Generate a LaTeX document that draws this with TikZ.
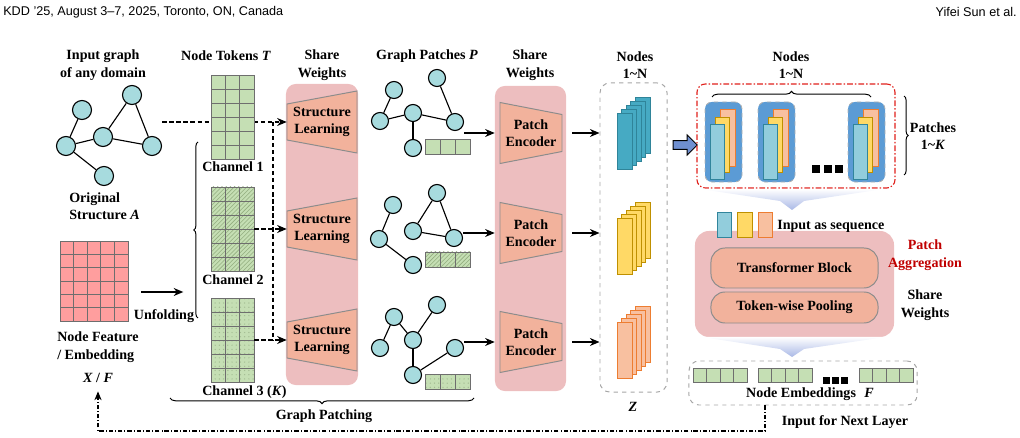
\documentclass[tikz,border=0pt]{standalone}
\usepackage{fontspec}
\setmainfont{Liberation Serif}
\newfontfamily\hdrfont{Liberation Sans}
\usetikzlibrary{arrows.meta, positioning, shapes.arrows, patterns, decorations.pathreplacing, fit, calc}
\definecolor{NodeCyan}{HTML}{A7DBDE}
\definecolor{CellGreen}{HTML}{C5DFB4}
\definecolor{CellLine}{HTML}{6E6E6E}
\definecolor{HatchGreen}{HTML}{93AE80}
\definecolor{DotGreen}{HTML}{A3BC92}
\definecolor{CellPink}{HTML}{FF9E9E}
\definecolor{PanelPink}{HTML}{EDBEBF}
\definecolor{Salmon}{HTML}{F2B29C}
\definecolor{TrapLine}{HTML}{8C8C8C}
\definecolor{StackTeal}{HTML}{46AAC3}
\definecolor{StackTealD}{HTML}{2F8499}
\definecolor{BarTeal}{HTML}{92CDDC}
\definecolor{BarTealD}{HTML}{31859C}
\definecolor{BarYel}{HTML}{FFD966}
\definecolor{BarYelD}{HTML}{BF9000}
\definecolor{BarOrg}{HTML}{F8C0A0}
\definecolor{BarOrgD}{HTML}{ED7D31}
\definecolor{BoxBlue}{HTML}{5B9BD5}
\definecolor{ArrowBlue}{HTML}{6F8FD0}
\definecolor{GradBlue}{HTML}{A9B8E6}
\definecolor{AggRed}{HTML}{E0201B}
\definecolor{TextRed}{HTML}{C00000}
\tikzset{
  lbl/.style={font=\fontsize{10}{12.5}\selectfont\bfseries, align=center, inner sep=0pt},
  hdr/.style={font=\hdrfont\fontsize{9}{10}\selectfont, inner sep=0pt},
  gnode/.style={circle, draw, line width=0.8pt, fill=NodeCyan, minimum size=#1, inner sep=0pt},
  gnode/.default=0.475cm,
  gedge/.style={line width=0.8pt},
  gridcell/.style={draw=CellLine, line width=0.6pt},
  plainfill/.style={fill=CellGreen},
  hatchfill/.style={fill=CellGreen, postaction={pattern=north east lines, pattern color=HatchGreen}},
  dotfill/.style={fill=CellGreen, postaction={pattern=dots, pattern color=DotGreen}},
  trap/.style={draw=TrapLine, fill=Salmon, line width=0.7pt},
  panel/.style={fill=PanelPink, rounded corners=7pt, inner sep=0pt},
  gbox/.style={draw=gray!70, dashed, rounded corners=7pt, line width=0.7pt, inner sep=0pt},
  redbox/.style={draw=AggRed, dash pattern=on 4pt off 1.5pt on 1pt off 1.5pt, rounded corners=6pt, line width=0.8pt, inner sep=0pt},
  bluebox/.style={draw=gray!60, dashed, fill=BoxBlue, rounded corners=5pt, line width=0.6pt, inner sep=0pt, minimum width=0.925cm, minimum height=2cm},
  modbox/.style={draw=TrapLine, fill=Salmon, rounded corners=10pt, line width=0.7pt, inner sep=0pt, minimum width=4.175cm},
  brc/.style={decorate, decoration={brace, amplitude=#1}, line width=0.7pt},
  brc/.default=4pt,
}

\begin{document}
\begin{tikzpicture}[x=0.025cm, y=-0.025cm,
    arr/.style={-{Stealth[length=2.4mm, width=2mm]}, line width=0.8pt},
    darr/.style={arr, dash pattern=on 3pt off 2pt},
    dline/.style={line width=0.8pt, dash pattern=on 3pt off 2pt},
    fb/.style={-{Stealth[length=2.2mm, width=1.8mm]}, line width=0.8pt, dash pattern=on 3pt off 1.5pt on 0.6pt off 1.5pt}
  ]
  \useasboundingbox (0,0) rectangle (1020,438);

  % page header
  \node[hdr, anchor=west] (hdrl) at (3,12) {KDD ’25, August 3–7, 2025, Toronto, ON, Canada};
  \node[hdr, anchor=east] (hdrr) at (1017,12) {Yifei Sun et al.};

  % input graph
  \node[lbl] (inlbl) at (103,65) {Input graph\\of any domain};
  \node[gnode] (n1) at (82,110) {};
  \node[gnode] (n2) at (132,95) {};
  \node[gnode] (n3) at (103,137) {};
  \node[gnode] (n4) at (66,146) {};
  \node[gnode] (n5) at (152,146) {};
  \node[gnode] (n6) at (104,176) {};
  \foreach \a/\b in {n1/n4, n4/n3, n3/n2, n2/n5, n3/n5, n4/n6}
    \draw[gedge] (\a) -- (\b);
  \node[fit=(n1)(n2)(n4)(n5)(n6), inner sep=0pt] (graphA) {};
  \node[lbl, align=left, anchor=west] (origlbl) at (69,206) {Original\\Structure \textit{A}};

  % node features
  \foreach \i in {0,...,4}
    \foreach \j in {0,...,5}
      \draw[gridcell, fill=CellPink] (60+13.6*\i, 241+13.33*\j) rectangle ++(13.6,13.33);
  \node[fit={(60,241)(128,321)}, inner sep=0pt] (feat) {};
  \draw[arr] ([shift={(13,11)}]feat.east) -- ++(42,0);
  \node[lbl] (unfold) at (164,316) {Unfolding};
  \node[lbl, align=left, anchor=west] (featlbl) at (57,347) {Node Feature\\/ Embedding};
  \node[lbl] (xf) at (98,378) {\textit{X} / \textit{F}};
  \draw[brc=3pt] (198,318) -- (198,142);

  % shared structure learning
  \node[lbl] (sw1lbl) at (322,65) {Share\\Weights};
  \node[panel, minimum width=1.8cm, minimum height=7.525cm] (sw1) at (322,234.5) {};
  \foreach \y [count=\i] in {122,229,340} {
    \draw[trap] (287,\y-18) -- (357,\y-31) -- (357,\y+31) -- (287,\y+18) -- cycle;
    \node[lbl, minimum width=1.75cm] (sl\i) at (322,\y) {Structure\\Learning};
  }

  % node tokens
  \node[lbl] (toklbl) at (226,56) {Node Tokens \textit{T}};
  \draw[darr] (graphA.east |- sl1.west) -- (sl1.west);
  \coordinate (vt) at (273,122);
  \coordinate (vb) at (273,340);
  \draw[dline] (vt) -- (vb);
  \foreach \t/\s [count=\k] in {75/plainfill, 187/hatchfill, 298/dotfill} {
    \path[\s] (211,\t) rectangle ++(43,84);
    \foreach \i in {0,1,2}
      \foreach \j in {0,...,5}
        \draw[gridcell] (211+14.33*\i, \t+14*\j) rectangle ++(14.33,14);
    \node[fit={(211,\t)(254,\t+84)}, inner sep=0pt] (ch\k) {};
  }
  \draw[darr] (ch2.east) -- (sl2.west);
  \draw[darr] (ch3.east) -- (sl3.west);
  \node[lbl, anchor=west] (ch1lbl) at (202,167) {Channel 1};
  \node[lbl, anchor=west] (ch2lbl) at (202,280) {Channel 2};
  \node[lbl, anchor=west] (ch3lbl) at (202,392) {Channel 3 (\textit{K})};

  % graph patches
  \node[lbl] (patlbl) at (427,56) {Graph Patches \textit{P}};
  \node[gnode=0.425cm] (p1a) at (394,90) {};
  \node[gnode=0.425cm] (p1b) at (437,78) {};
  \node[gnode=0.425cm] (p1c) at (380,121) {};
  \node[gnode=0.425cm] (p1d) at (413,113) {};
  \node[gnode=0.425cm] (p1e) at (455,122) {};
  \node[gnode=0.425cm] (p1f) at (413,148) {};
  \foreach \a/\b in {p1a/p1c, p1c/p1d, p1d/p1e, p1e/p1b, p1d/p1f}
    \draw[gedge] (\a) -- (\b);

  \node[gnode=0.425cm] (p2a) at (393,205) {};
  \node[gnode=0.425cm] (p2b) at (437,193) {};
  \node[gnode=0.425cm] (p2c) at (379,239) {};
  \node[gnode=0.425cm] (p2d) at (413,231) {};
  \node[gnode=0.425cm] (p2e) at (454,238) {};
  \node[gnode=0.425cm] (p2f) at (413,265) {};
  \foreach \a/\b in {p2a/p2c, p2c/p2f, p2d/p2b, p2b/p2e, p2d/p2e}
    \draw[gedge] (\a) -- (\b);

  \node[gnode=0.425cm] (p3a) at (394,317) {};
  \node[gnode=0.425cm] (p3b) at (437,305) {};
  \node[gnode=0.425cm] (p3c) at (380,348) {};
  \node[gnode=0.425cm] (p3d) at (413,340) {};
  \node[gnode=0.425cm] (p3e) at (455,348) {};
  \node[gnode=0.425cm] (p3f) at (413,375) {};
  \foreach \a/\b in {p3c/p3a, p3a/p3d, p3d/p3b, p3d/p3f, p3f/p3e}
    \draw[gedge] (\a) -- (\b);

  \foreach \y/\s in {139/plainfill, 252/hatchfill, 374/dotfill} {
    \path[\s] (425,\y) rectangle ++(45,15);
    \foreach \i in {0,1,2}
      \draw[gridcell] (425+15*\i,\y) rectangle ++(15,15);
  }

  % shared patch encoder
  \node[lbl] (sw2lbl) at (530,65) {Share\\Weights};
  \node[panel, minimum width=1.775cm, minimum height=7.625cm] (sw2) at (530.5,238.5) {};
  \foreach \y [count=\i] in {133,233,342} {
    \draw[trap] (500,\y-30.5) -- (562,\y-18.5) -- (562,\y+18.5) -- (500,\y+30.5) -- cycle;
    \node[lbl, minimum width=1.55cm] (pe\i) at (531,\y) {Patch\\Encoder};
  }
  \draw[arr] (p1e.east |- pe1.west) -- (sw2.west |- pe1.west);
  \draw[arr] (p2e.east |- pe2.west) -- (sw2.west |- pe2.west);
  \draw[arr] (p3e.east |- pe3.west) -- (sw2.west |- pe3.west);

  % patch embeddings Z
  \node[lbl] (zlbl) at (635,65) {Nodes\\1\textasciitilde N};
  \node[gbox, minimum width=1.675cm, minimum height=7.725cm] (zbox) at (633.5,237.5) {};
  \foreach \i in {1,2,3}
    \draw[arr, shorten <=7pt] (pe\i.east) -- (pe\i.east -| zbox.west);
  \foreach \y/\f/\d in {113/StackTeal/StackTealD, 218/BarYel/BarYelD, 322/BarOrg/BarOrgD}
    \foreach \k in {4,3,2,1,0}
      \draw[draw=\d, fill=\f, line width=0.6pt] (617+4.5*\k, \y-4*\k) rectangle ++(15,56);
  \node[lbl] (zsym) at (633,407) {\textit{Z}};

  \node[single arrow, draw=black, fill=ArrowBlue, line width=0.7pt, minimum height=0.6cm,
        single arrow head extend=4pt, inner sep=2.8pt] (blk) at (683,145) {};

  % regrouped patches
  \node[lbl] (nlbl) at (791,65) {Nodes\\1\textasciitilde N};
  \node[redbox, minimum width=4.95cm, minimum height=2.6cm] (agg) at (796,136) {};
  \draw[brc] (712,97) -- (871,97);
  \foreach \x [count=\i] in {705,758,848} {
    \node[bluebox] (pb\i) at (\x+18.5,142) {};
    \draw[draw=BarOrgD, fill=BarOrg, line width=0.6pt] (\x+15,109) rectangle ++(15,57);
    \draw[draw=BarYelD, fill=BarYel, line width=0.6pt] (\x+10,117) rectangle ++(14,55);
    \draw[draw=BarTealD, fill=BarTeal, line width=0.6pt] (\x+5,124) rectangle ++(14,55);
  }
  \foreach \x in {812,823.5,835}
    \fill (\x,165) rectangle ++(8,8);
  \draw[brc=3pt] (904,96) -- (904,175);
  \node[lbl] (patklbl) at (933,136) {Patches\\1\textasciitilde\textit{K}};

  \shade[top color=white, bottom color=GradBlue] (700,189) -- (884,189) -- (804,201) -- (792,210) -- (780,201) -- cycle;

  % patch aggregation
  \node[panel, rounded corners=10pt, minimum width=4.975cm, minimum height=2.65cm] (aggpanel) at (794.5,284) {};
  \draw[draw=BarTealD, fill=BarTeal, line width=0.6pt] (717,212) rectangle (731,237);
  \draw[draw=BarYelD, fill=BarYel, line width=0.6pt] (737,212) rectangle (752,237);
  \draw[draw=BarOrgD, fill=BarOrg, line width=0.6pt] (758,212) rectangle (772,237);
  \node[lbl, anchor=west] (seqlbl) at (777,226) {Input as sequence};
  \node[modbox, minimum height=1cm, lbl] (tfm) at (794.5,268) {Transformer Block};
  \node[modbox, minimum height=0.775cm, lbl] (pool) at (794.5,307.5) {Token-wise Pooling};
  \node[lbl, text=TextRed] (agglbl) at (925,255) {Patch\\Aggregation};
  \node[lbl] (sw3lbl) at (925,305) {Share\\Weights};

  \shade[top color=white, bottom color=GradBlue] (702,337) -- (886,337) -- (804,349) -- (792,357) -- (780,349) -- cycle;

  % node embeddings
  \node[gbox, minimum width=5.7cm, minimum height=1.1cm] (embbox) at (803,383) {};
  \foreach \x in {693,758,859}
    \foreach \i in {0,...,3}
      \draw[gridcell, fill=CellGreen] (\x+13.5*\i,368) rectangle ++(13.5,14);
  \foreach \x in {823,832,841}
    \fill (\x,377) rectangle ++(7,7);
  \node[lbl] (emblbl) at (810,394) {Node Embeddings\hspace{6pt}\textit{F}};

  % feedback to next layer
  \coordinate (fbx) at (765,431);
  \coordinate (fby) at (98,431);
  \draw[fb, shorten >=6pt] (fbx |- embbox.south) -- (fbx) -- (fby) -- (xf.south);
  \node[lbl] (nextlbl) at (845,422) {Input for Next Layer};

  % graph patching
  \draw[brc] (474,398) -- (170,398);
  \node[lbl] (gplbl) at (324,416) {Graph Patching};
\end{tikzpicture}
\end{document}
